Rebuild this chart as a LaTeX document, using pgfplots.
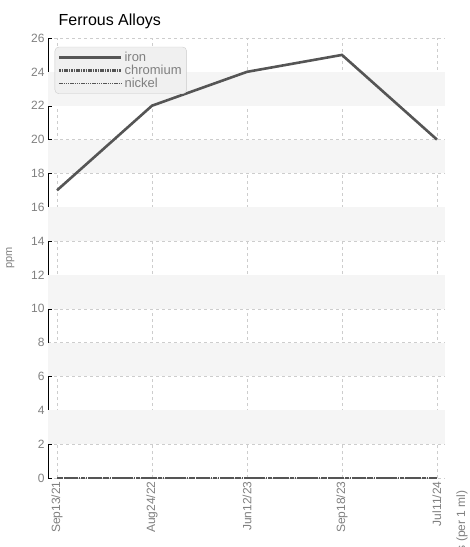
\documentclass[border=0pt]{standalone}
\usepackage{pgfplots}
\pgfplotsset{compat=1.18}
\usepackage{fontspec}
\setmainfont{Liberation Sans}
\definecolor{band}{RGB}{245,245,245}
\definecolor{grd}{RGB}{205,205,205}
\definecolor{ln}{RGB}{85,85,85}
\begin{document}
\begin{tikzpicture}
\path[use as bounding box] (-48pt,-69pt) rectangle (422pt,478pt);
\begin{axis}[
  at={(0,0)}, anchor=south west,
  scale only axis, width=397pt, height=440pt,
  xmin=-0.095, xmax=4.085, ymin=0, ymax=26,
  xtick={0,1,2,3,4},
  xticklabels={Sep13/21,Aug24/22,Jun12/23,Sep18/23,Jul11/24},
  xticklabel style={rotate=90, anchor=east, font=\fontsize{12}{13}\selectfont, text=gray},
  ytick={0,2,...,26},
  yticklabel style={font=\fontsize{12}{13}\selectfont, text=gray},
  /pgf/number format/assume math mode=true,
  grid=major, grid style={dashed, grd},
  axis x line*=bottom, axis y line*=left,
  x axis line style={-, draw=none},
  y axis line style={-, black},
  tick style={black}, xtick style={draw=none},
  legend style={at={(rel axis cs:0.017,0.98)}, anchor=north west, fill=gray!12, draw=gray!40, rounded corners=4pt, font=\fontsize{13}{14}\selectfont, text=gray, row sep=-2pt, inner sep=3pt},
  legend image code/.code={\draw[#1] (0cm,0cm) -- (62pt,0cm);},
  legend cell align=left,
  clip=false,
]
\pgfplotsinvokeforeach{2,6,10,14,18,22}{
  \fill[band] (axis cs:-0.095,#1) rectangle (axis cs:4.085,#1+2);
}
\addplot[ln, line width=2.6pt] coordinates {(0,17)(1,22)(2,24)(3,25)(4,20)};
\addlegendentry{iron}
\addplot[ln, line width=2.6pt, dash pattern=on 1.6pt off 0.8pt] coordinates {(0,0)(1,0)(2,0)(3,0)(4,0)};
\addlegendentry{chromium}
\addplot[ln, line width=1.6pt, dash pattern=on 1.4pt off 0.8pt] coordinates {(0,0)(1,0)(2,0)(3,0)(4,0)};
\addlegendentry{nickel}
\node[anchor=south west, font=\fontsize{16}{18}\selectfont] at (rel axis cs:0.018,1.012) {Ferrous Alloys};
\node[rotate=90, font=\fontsize{11}{12}\selectfont, text=gray] at (rel axis cs:-0.095,0.5) {ppm};
\node[rotate=90, anchor=east, font=\fontsize{12}{13}\selectfont, text=gray] at (rel axis cs:1.043,-0.02) {s (per 1 ml)};
\end{axis}
\end{tikzpicture}
\end{document}
